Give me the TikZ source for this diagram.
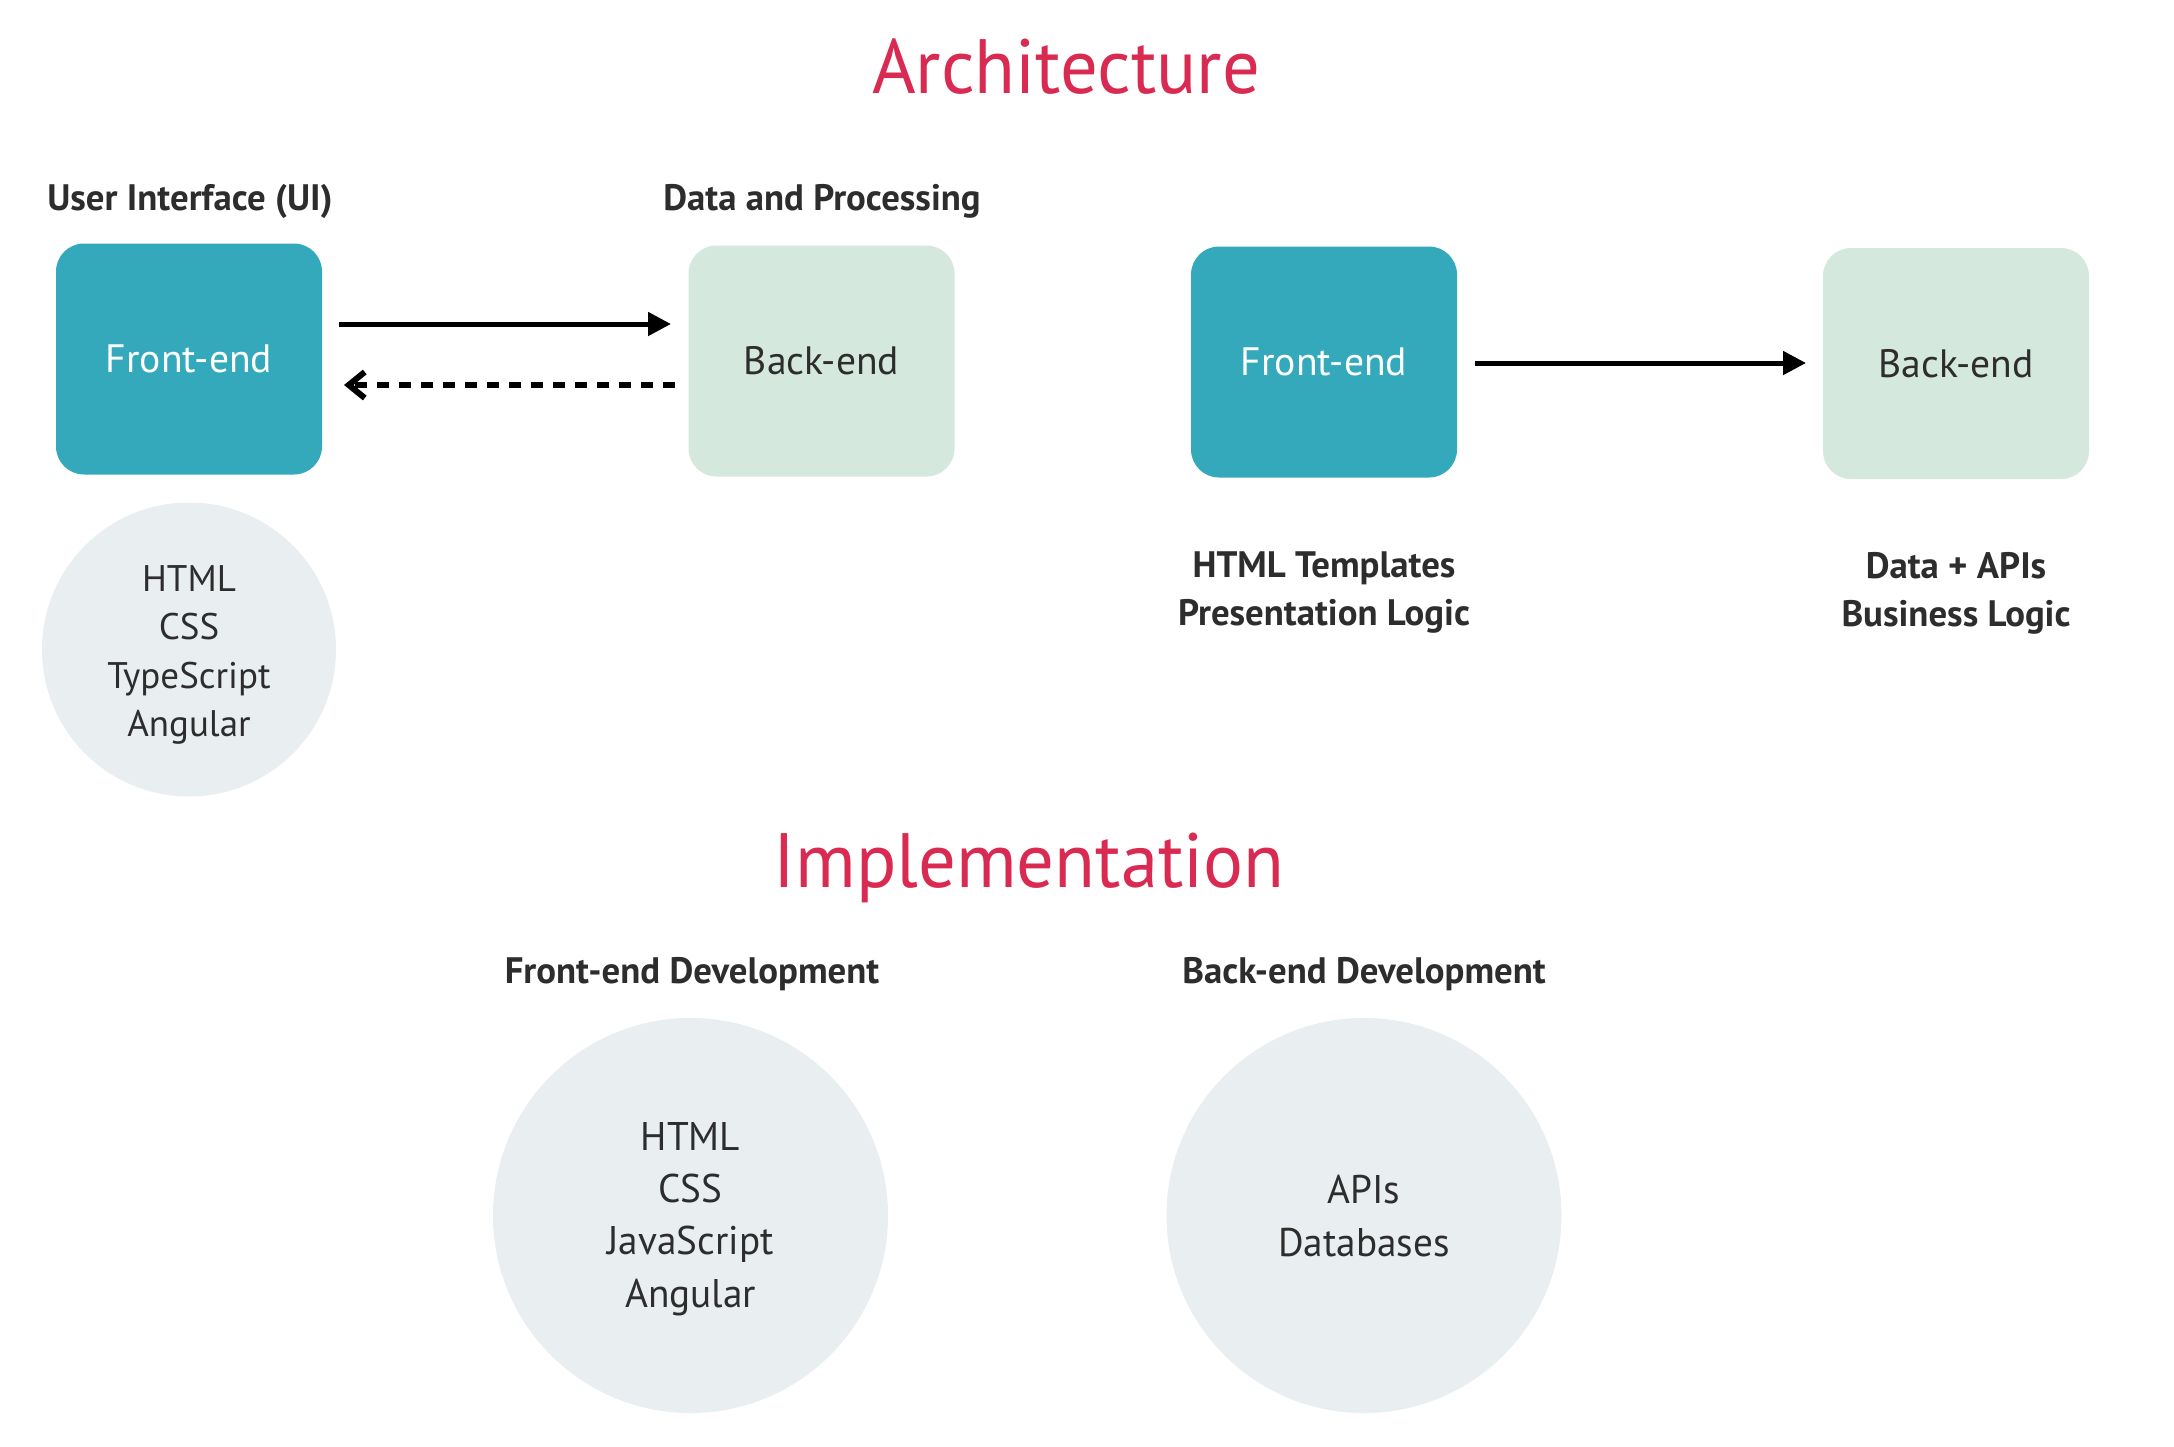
\documentclass[tikz,border=0pt]{standalone}
\usepackage{fontspec}
\setmainfont{PT Sans}
\usetikzlibrary{arrows.meta}
\definecolor{teal1}{HTML}{35A9BC}
\definecolor{mint1}{HTML}{D5E8DE}
\definecolor{circ1}{HTML}{E9EEF1}
\definecolor{red1}{HTML}{D92A51}
\definecolor{ink}{HTML}{2D2D2D}
\tikzset{
  box/.style={rounded corners=14pt, minimum width=133pt, minimum height=115.5pt, inner sep=0pt, font=\fontsize{19.8}{23}\selectfont},
  fbox/.style={box, fill=teal1, text=white},
  bbox/.style={box, fill=mint1, text=ink},
  bubble/.style={circle, fill=circ1, inner sep=0pt},
  btext/.style={text=ink, align=center, inner sep=0pt},
  head/.style={text=ink, anchor=base, inner sep=0pt, font=\fontsize{18.4}{24}\bfseries\selectfont},
  sub/.style={text=ink, align=center, inner sep=0pt, font=\fontsize{18.4}{24}\bfseries\selectfont},
  ttl/.style={text=red1, anchor=base, inner sep=0pt, font=\fontsize{38.5}{44}\selectfont},
  arr/.style={line width=2.5pt, -{Triangle[length=11.5pt,width=11.5pt]}},
  darr/.style={line width=2.8pt, dash pattern=on 6pt off 5pt, -{Straight Barb[length=8pt,width=13pt,line width=3pt]}}
}
\newcommand{\sr}[1]{\scalebox{0.98}[1]{#1}}
\begin{document}
\begin{tikzpicture}[x=0.5pt,y=-0.5pt]
\useasboundingbox[fill=white] (0,0) rectangle (2174,1446);
\node[ttl] (t1) at (1066,93) {\scalebox{0.97}[1]{Architecture}};
\node[head] (h1) at (190,210) {User Interface (UI)};
\node[head] (h2) at (822,210) {Data and Processing};
\node[fbox] (fe1) at (189,359) {Front-end};
\node[bbox] (be1) at (821.5,361) {\raisebox{-2pt}{Back-end}};
\coordinate (a1s) at (339,324);
\coordinate (a1e) at (671,324);
\draw[arr] (a1s) -- (a1e);
\coordinate (d1s) at (675,385);
\coordinate (d1e) at (344,385);
\draw[darr] (d1s) -- (d1e);
\node[bubble, minimum size=147pt] (c1) at (189,649.5) {};
\node[btext, font=\fontsize{18.5}{24.2}\selectfont] (c1t) at (189,655) {HTML\\CSS\\TypeScript\\Angular};
\node[fbox] (fe2) at (1324,362) {Front-end};
\node[bbox] (be2) at (1956,363.5) {\raisebox{-2pt}{Back-end}};
\coordinate (a2s) at (1475,363);
\coordinate (a2e) at (1806,363);
\draw[arr] (a2s) -- (a2e);
\node[sub] (s1) at (1324,593) {HTML Templates\\Presentation Logic};
\node[sub] (s2) at (1956,593) {Data + APIs\\Business Logic};
\node[ttl] (t2) at (1029,887) {\scalebox{0.97}[1]{Implementation}};
\node[head] (h3) at (692,983) {Front-end Development};
\node[head] (h4) at (1364,983) {Back-end Development};
\node[bubble, minimum size=197.5pt] (c2) at (690.5,1215.5) {};
\node[btext, font=\fontsize{20}{26.2}\selectfont] (c2t) at (690.5,1219) {\sr{HTML}\\\sr{CSS}\\\sr{JavaScript}\\\sr{Angular}};
\node[bubble, minimum size=197.5pt] (c3) at (1364,1215.5) {};
\node[btext, font=\fontsize{20}{26.2}\selectfont] (c3t) at (1364,1216) {\sr{APIs}\\\sr{Databases}};
\end{tikzpicture}
\end{document}
